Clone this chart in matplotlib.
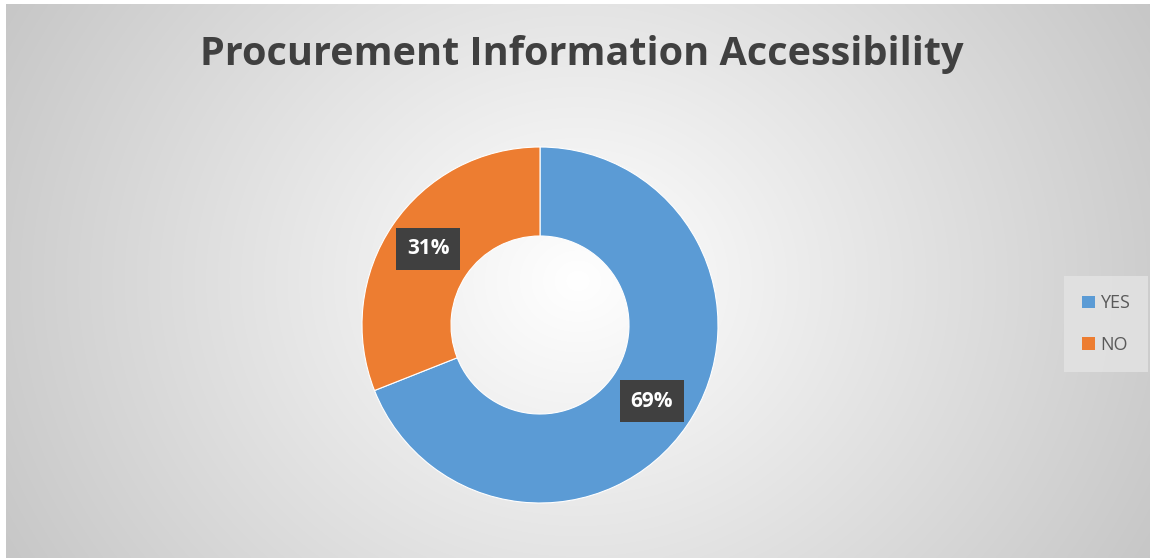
import numpy as np
import matplotlib.pyplot as plt
from matplotlib.patches import Patch

labels = ["YES", "NO"]
shares = [69, 31]
colors = ["#5B9BD5", "#ED7D31"]

W, H = 1154, 558
fig = plt.figure(figsize=(W / 100, H / 100), dpi=100)

# radial gradient background
bg = fig.add_axes([6 / W, 0, 1 - 10 / W, 1 - 4 / H])
yy, xx = np.mgrid[0:1:300j, 0:1:600j]
d = np.sqrt(((xx - 0.5) * 1.0) ** 2 + ((yy - 0.5) * 0.55) ** 2)
d = d / d.max()
g = 1.0 - 0.22 * d
bg.imshow(np.dstack([g, g, g]), aspect="auto", extent=[0, 1, 0, 1], interpolation="bilinear")
bg.axis("off")

fig.text(582 / W, 1 - 55 / H, "Procurement Information Accessibility",
         ha="center", va="center", fontsize=28.5, fontweight="bold",
         color="#404040", family="Open Sans")

R = 178
ax = fig.add_axes([(540 - R) / W, 1 - (325 + R) / H, 2 * R / W, 2 * R / H])
ax.set_facecolor("none")
wedges, _, autotexts = ax.pie(
    shares, colors=colors, startangle=90, counterclock=False,
    radius=1.0, wedgeprops=dict(width=0.5, edgecolor="white", linewidth=0.8),
    autopct="%d%%", pctdistance=0.76,
    textprops=dict(color="white", fontsize=15, fontweight="bold", family="Open Sans"))
for t in autotexts:
    t.set_bbox(dict(boxstyle="square,pad=0.5", facecolor="#404040", edgecolor="none"))
ax.set_xlim(-1, 1)
ax.set_ylim(-1, 1)
ax.set_aspect("equal")
ax.axis("off")

handles = [Patch(facecolor=c, edgecolor="none") for c in colors]
leg = fig.legend(handles, labels, loc="center", bbox_to_anchor=(1106 / W, 1 - 324 / H),
                 frameon=True, fancybox=False, handlelength=0.7, handleheight=0.7,
                 handletextpad=0.3, labelspacing=1.3, borderpad=1.0,
                 prop=dict(size=13, family="Open Sans"))
leg.get_frame().set_facecolor("#e4e4e4")
leg.get_frame().set_edgecolor("none")
for t in leg.get_texts():
    t.set_color("#595959")

fig.savefig("out.png", dpi=100, facecolor="white")
